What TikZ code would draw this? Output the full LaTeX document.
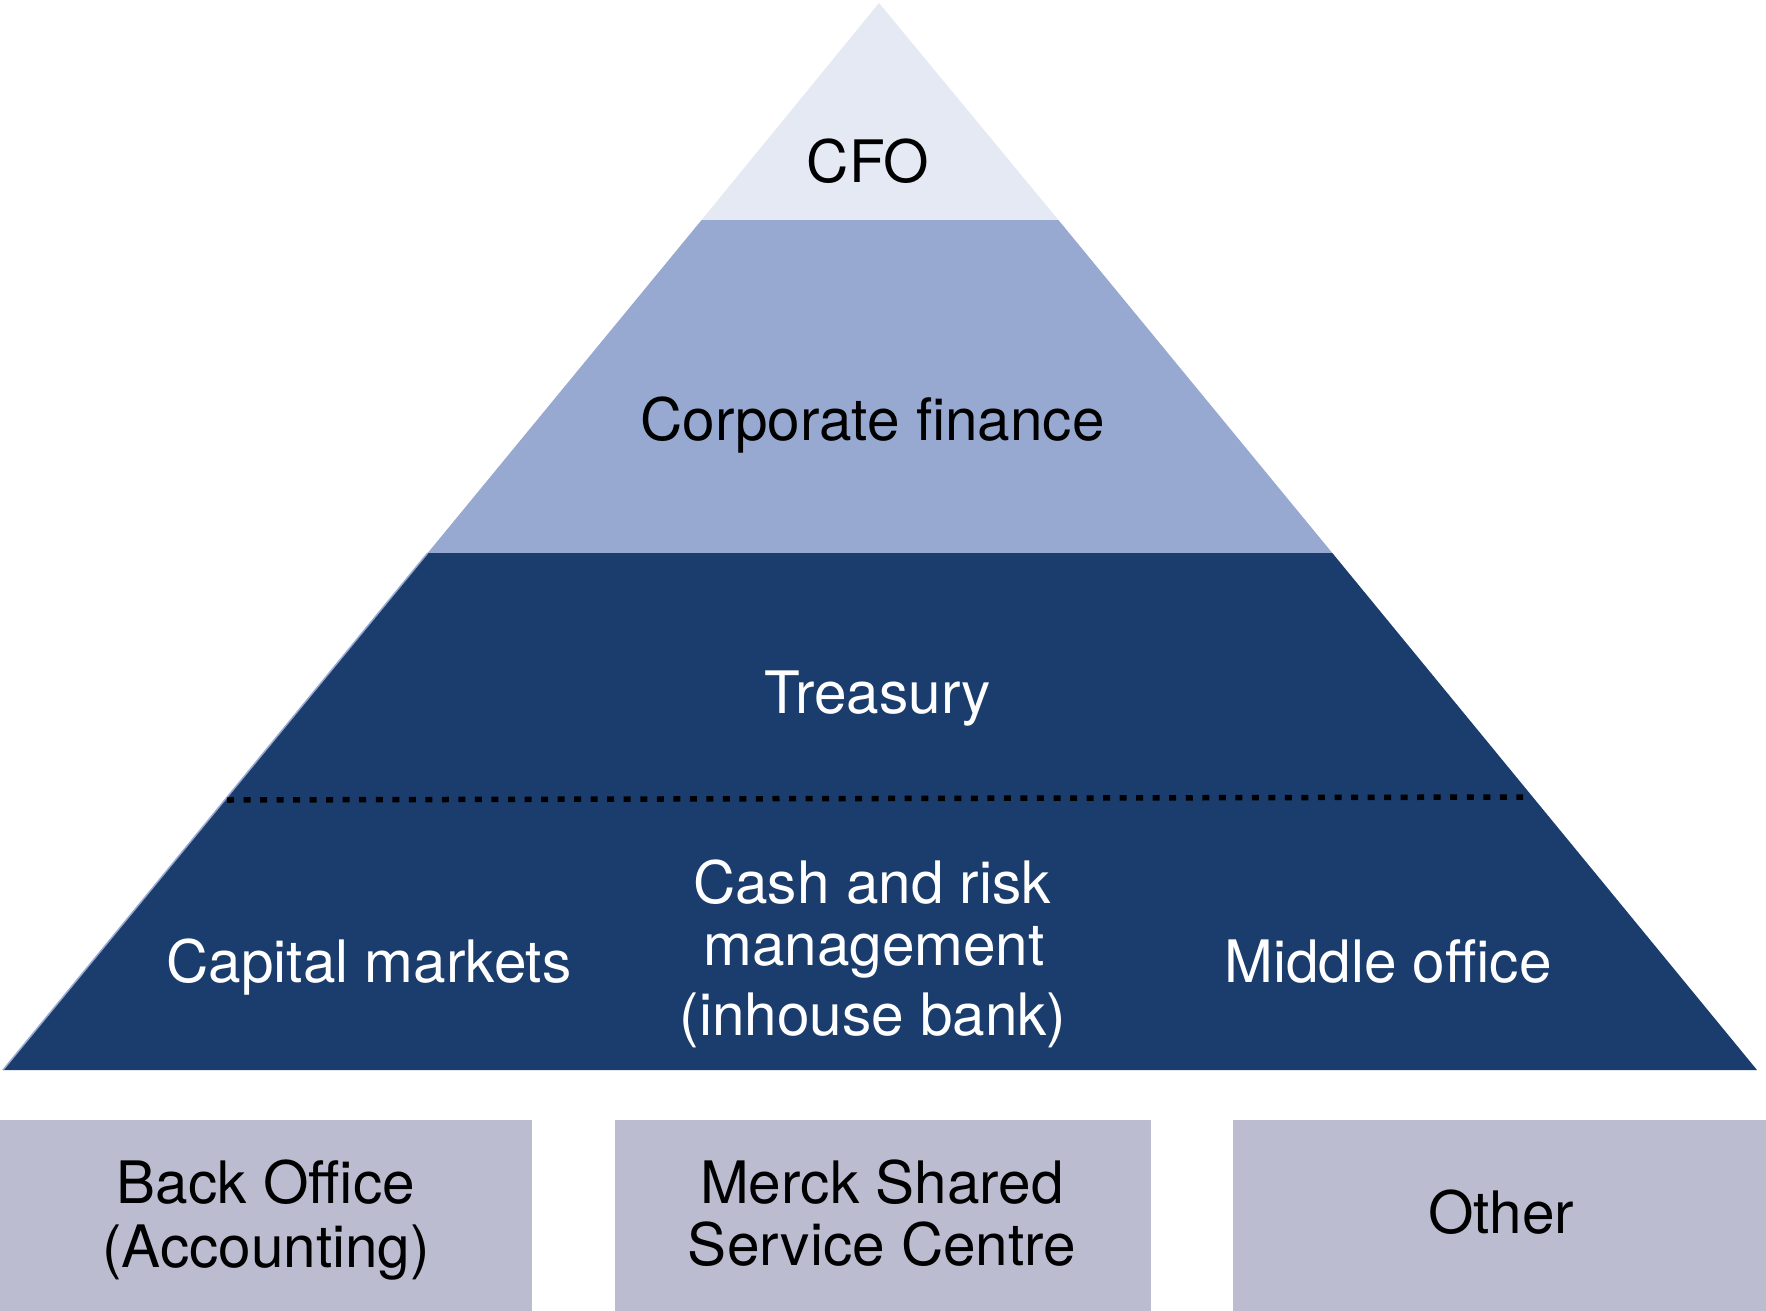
\documentclass[tikz,border=0pt]{standalone}
\usepackage{fontspec}
\setmainfont{TeX Gyre Heros}
\definecolor{cfocol}{RGB}{228,233,244}
\definecolor{corpcol}{RGB}{151,169,209}
\definecolor{darkcol}{RGB}{27,61,110}
\definecolor{boxcol}{RGB}{187,188,208}
\begin{document}
\begin{tikzpicture}[x=1pt,y=-1pt,
  lbl/.style={inner sep=0pt,anchor=base,font=\fontsize{58.5}{64}\selectfont},
  darklbl/.style={lbl,text=white},
  lightlbl/.style={lbl,text=black},
  boxshape/.style={fill=boxcol,draw=none},
  sepline/.style={line width=5.5pt,dash pattern=on 7pt off 9.53pt,black}]
\useasboundingbox (0,0) rectangle (1766,1311);
% pyramid bands
\coordinate (apex) at (879,3);
\coordinate (cL) at (701.6,220);
\coordinate (cR) at (1058.4,220);
\coordinate (fL) at (427.7,553);
\coordinate (fR) at (1332.3,553);
\coordinate (bL) at (3,1070);
\coordinate (bR) at (1757,1070);
\fill[cfocol] (apex) -- (cR) -- (cL) -- cycle;
\fill[corpcol] (cL) -- (cR) -- (fR) -- (fL) -- cycle;
\fill[darkcol] (fL) -- (fR) -- (bR) -- (bL) -- cycle;
\draw[corpcol,line width=1.5pt] (fL) -- (bL);
% dotted separator
\coordinate (dL) at (227,800);
\coordinate (dR) at (1523,797);
\draw[sepline] (dL) -- (dR);
% boxes
\fill[boxshape] (0,1120) rectangle (532,1311);
\fill[boxshape] (615,1120) rectangle (1151,1311);
\fill[boxshape] (1233,1120) rectangle (1766,1311);
% labels
\node[lightlbl] (cfo) at (868,182) {CFO};
\node[lightlbl] (corp) at (872.5,440) {Corporate finance};
\node[darklbl] (treas) at (878,713) {Treasury};
\node[darklbl] (cap) at (369,982) {Capital markets};
\node[darklbl] (cash1) at (872,903) {Cash and risk};
\node[darklbl] (cash2) at (874,965) {management};
\node[darklbl] (cash3) at (873,1035) {(inhouse bank)};
\node[darklbl] (mid) at (1388,982) {Middle office};
\node[lightlbl] (back1) at (266,1203) {Back Office};
\node[lightlbl] (back2) at (266,1267) {(Accounting)};
\node[lightlbl] (merck1) at (882,1203) {Merck Shared};
\node[lightlbl] (merck2) at (882,1265) {Service Centre};
\node[lightlbl] (other) at (1501,1233) {Other};
\end{tikzpicture}
\end{document}
